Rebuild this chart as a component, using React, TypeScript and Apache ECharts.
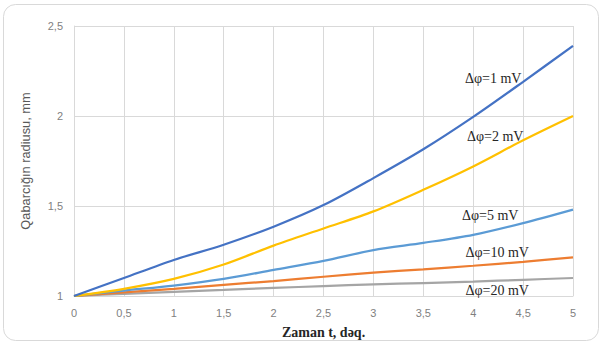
import React, { useEffect, useRef } from "react";
import * as echarts from "echarts";

const times = [0, 0.5, 1, 1.5, 2, 2.5, 3, 3.5, 4, 4.5, 5];
const seriesNames = ["Δφ=1 mV", "Δφ=2 mV", "Δφ=5 mV", "Δφ=10 mV", "Δφ=20 mV"];
const dphi1 = [1, 1.1, 1.2, 1.285, 1.385, 1.505, 1.655, 1.815, 1.995, 2.19, 2.39];
const dphi2 = [1, 1.04, 1.095, 1.175, 1.28, 1.375, 1.47, 1.59, 1.72, 1.865, 2.0];
const dphi5 = [1, 1.03, 1.058, 1.095, 1.145, 1.195, 1.255, 1.295, 1.34, 1.405, 1.48];
const dphi10 = [1, 1.02, 1.04, 1.062, 1.083, 1.107, 1.13, 1.148, 1.168, 1.19, 1.215];
const dphi20 = [1, 1.012, 1.023, 1.034, 1.045, 1.055, 1.065, 1.072, 1.08, 1.09, 1.1];
const colors = ["#4472C4", "#FFC000", "#5B9BD5", "#ED7D31", "#A5A5A5"];
// label anchor positions in data units [t, radius]
const labelPos = [
  [4.2, 2.21],
  [4.22, 1.885],
  [4.17, 1.45],
  [4.24, 1.24],
  [4.24, 1.033],
];

const allData = [dphi1, dphi2, dphi5, dphi10, dphi20];

export default function App() {
  const ref = useRef<HTMLDivElement>(null);
  useEffect(() => {
    if (!ref.current) return;
    const chart = echarts.init(ref.current, null, { renderer: "svg" });
    const fmt = (v: number) => String(v).replace(".", ",");
    chart.setOption({
      animation: false,
      graphic: [
        {
          type: "rect",
          shape: { x: 3.5, y: 4.5, width: 595, height: 336, r: 12 },
          style: { fill: "none", stroke: "#d9d9d9", lineWidth: 1 },
          silent: true,
          z: -10,
        },
      ],
      grid: { left: 74, right: 30, top: 26, bottom: 47, containLabel: false },
      xAxis: {
        type: "value",
        min: 0,
        max: 5,
        interval: 0.5,
        name: "Zaman t, dəq.",
        nameLocation: "middle",
        nameGap: 29,
        nameTextStyle: {
          fontFamily: "Liberation Serif",
          fontSize: 14,
          fontWeight: "bold",
          color: "#262626",
        },
        axisLine: { show: true, lineStyle: { color: "#d9d9d9", width: 1 } },
        axisTick: { show: false },
        axisLabel: {
          formatter: fmt,
          color: "#7f7f7f",
          fontFamily: "Liberation Sans",
          fontSize: 11,
          margin: 11,
        },
        splitLine: { show: true, lineStyle: { color: "#d9d9d9", width: 1 } },
      },
      yAxis: {
        type: "value",
        min: 1,
        max: 2.5,
        interval: 0.5,
        name: "Qabarcığın radiusu, mm",
        nameLocation: "middle",
        nameGap: 42,
        nameTextStyle: {
          fontFamily: "Liberation Sans",
          fontSize: 12.8,
          color: "#595959",
        },
        axisLine: { show: true, lineStyle: { color: "#d9d9d9", width: 1 } },
        axisTick: { show: false },
        axisLabel: {
          formatter: fmt,
          color: "#7f7f7f",
          fontFamily: "Liberation Sans",
          fontSize: 11,
          margin: 11,
        },
        splitLine: { show: true, lineStyle: { color: "#d9d9d9", width: 1 } },
      },
      series: allData.map((d, i) => ({
        type: "line",
        name: seriesNames[i],
        data: times.map((t, j) => [t, d[j]]),
        smooth: 0.3,
        showSymbol: false,
        symbol: "none",
        lineStyle: { color: colors[i], width: 2.2 },
        z: 10 - i,
        markPoint: {
          symbol: "circle",
          symbolSize: 0,
          silent: true,
          data: [
            {
              coord: labelPos[i],
              label: {
                show: true,
                position: "inside",
                formatter: seriesNames[i],
                fontFamily: "Liberation Serif",
                fontSize: 14,
                color: "#262626",
              },
            },
          ],
        },
      })),
    });
    return () => chart.dispose();
  }, []);
  return (
    <div
      ref={ref}
      style={{ position: "fixed", left: 0, top: 0, width: 603, height: 344, background: "#fff" }}
    />
  );
}
